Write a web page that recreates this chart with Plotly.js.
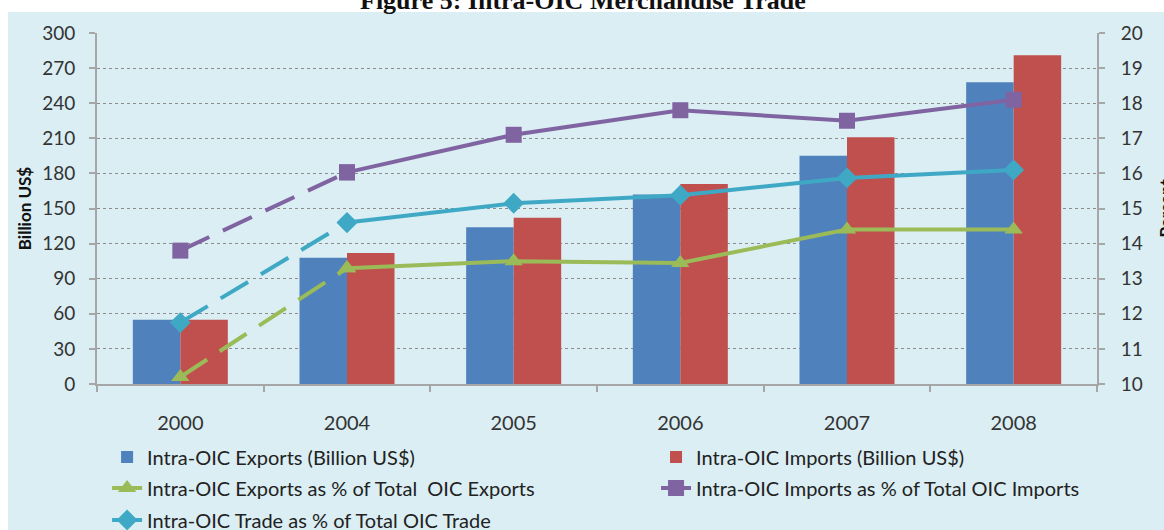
<!DOCTYPE html>
<html>
<head>
<meta charset="utf-8">
<script src="https://cdn.plot.ly/plotly-3.0.1.min.js"></script>
<style>
  body { margin: 0; background: #fff; }
  #plot { width: 1164px; height: 530px; }
</style>
</head>
<body>
<div id="plot"></div>
<script>
// years on the x axis
let years = ["2000", "2004", "2005", "2006", "2007", "2008"];

// bars, billion US$ (left axis)
let exportsBn = [55, 108, 134, 162, 195, 258];
let importsBn = [55, 112, 142, 171, 211, 281];

// lines, percent (right axis)
let exportsPct = [10.2, 13.3, 13.5, 13.45, 14.4, 14.4];
let importsPct = [13.8, 16.03, 17.1, 17.8, 17.5, 18.1];
let tradePct = [11.75, 14.6, 15.15, 15.38, 15.87, 16.1];

let leftTicks = [0, 30, 60, 90, 120, 150, 180, 210, 240, 270, 300];
let rightTicks = [10, 11, 12, 13, 14, 15, 16, 17, 18, 19, 20];

let blue = "#4F81BD", red = "#C0504D";
let green = "#9BBB59", purple = "#8064A2", cyan = "#3FA9C5";

// line series: dashed 2000-2004, solid from 2004 on
function lineTraces(values, name, color, symbol, legendId) {
  let marker = {symbol: symbol, size: 16, color: color, line: {width: 0}};
  return [
    {
      x: years.slice(0, 2), y: values.slice(0, 2), yaxis: "y2",
      type: "scatter", mode: "lines+markers", showlegend: false,
      line: {color: color, width: 4, dash: "32px,15px"}, marker: marker,
      hoverinfo: "skip"
    },
    {
      x: years.slice(1), y: values.slice(1), yaxis: "y2", name: name,
      type: "scatter", mode: "lines+markers", legend: legendId,
      line: {color: color, width: 4}, marker: marker
    }
  ];
}

let traces = [
  {x: years, y: exportsBn, type: "bar", name: "Intra-OIC Exports (Billion US$)",
   marker: {color: blue}, legend: "legend"},
  {x: years, y: importsBn, type: "bar", name: "Intra-OIC Imports (Billion US$)",
   marker: {color: red}, legend: "legend2"}
].concat(
  lineTraces(exportsPct, "Intra-OIC Exports as % of Total  OIC Exports", green, "triangle-up", "legend3"),
  lineTraces(importsPct, "Intra-OIC Imports as % of Total OIC Imports", purple, "square", "legend4"),
  lineTraces(tradePct, "Intra-OIC Trade as % of Total OIC Trade", cyan, "diamond", "legend5")
);

let tickFont = {family: "Lato, sans-serif", size: 19, color: "#333"};
let legendFont = {family: "Lato, sans-serif", size: 20, color: "#222"};
let axisTitleFont = {family: "Lato, sans-serif", size: 17, color: "#111", weight: "bold"};

// legends placed in page coordinates so they do not push the margins
function legendAt(x, y) {
  return {x: x, y: y, xref: "container", yref: "container",
          xanchor: "left", yanchor: "middle", orientation: "h",
          bgcolor: "rgba(0,0,0,0)", font: legendFont};
}

let layout = {
  width: 1164,
  height: 530,
  margin: {l: 97, r: 67, t: 33, b: 146},
  paper_bgcolor: "#ffffff",
  plot_bgcolor: "rgba(0,0,0,0)",
  barmode: "group",
  bargap: 0.43,
  bargroupgap: 0,
  font: {family: "Lato, sans-serif", color: "#333"},
  xaxis: {
    type: "category",
    tickfont: {family: "Lato, sans-serif", size: 20, color: "#333"},
    showline: true, linecolor: "#A6A6A6", linewidth: 2,
    ticks: "outside", tickson: "boundaries", ticklen: 6, tickcolor: "#A6A6A6", tickwidth: 2,
    ticklabelstandoff: 20,
    showgrid: false, zeroline: false, fixedrange: true
  },
  yaxis: {
    range: [0, 300], tickvals: leftTicks, tickfont: tickFont,
    showline: true, linecolor: "#A6A6A6", linewidth: 2,
    ticks: "outside", ticklen: 6, tickcolor: "#A6A6A6", tickwidth: 2,
    ticklabelstandoff: 10,
    showgrid: true, gridcolor: "#8C8C8C", griddash: "dot", gridwidth: 1,
    zeroline: false,
    title: {text: "Billion US$", font: axisTitleFont, standoff: 6}
  },
  yaxis2: {
    overlaying: "y", side: "right",
    range: [10, 20], tickvals: rightTicks, tickfont: tickFont,
    showline: true, linecolor: "#A6A6A6", linewidth: 2,
    ticks: "outside", ticklen: 6, tickcolor: "#A6A6A6", tickwidth: 2,
    ticklabelstandoff: 12,
    showgrid: false, zeroline: false
  },
  shapes: [
    {type: "rect", xref: "paper", yref: "paper", layer: "below",
     x0: -0.089, x1: 1.2, y0: -0.6, y1: 1.06,
     fillcolor: "#DAEEF3", line: {width: 0}}
  ],
  annotations: [
    {text: "Figure 5: Intra-OIC Merchandise Trade", xref: "paper", yref: "paper",
     x: 0.486, y: 1.094, xanchor: "center", yanchor: "middle", showarrow: false,
     font: {family: "Liberation Serif, serif", size: 26, color: "#111", weight: "bold"}},
    // right axis title sits at the page edge, as in the source
    {text: "Percent", xref: "paper", yref: "paper", x: 1.068, y: 0.5,
     xanchor: "center", yanchor: "middle", textangle: -90, showarrow: false,
     font: axisTitleFont}
  ],
  legend: legendAt(0.092, 0.1377),
  legend2: legendAt(0.5636, 0.1377),
  legend3: legendAt(0.092, 0.0792),
  legend4: legendAt(0.5636, 0.0792),
  legend5: legendAt(0.092, 0.0189)
};

Plotly.newPlot("plot", traces, layout, {displayModeBar: false, staticPlot: true});
</script>
</body>
</html>
